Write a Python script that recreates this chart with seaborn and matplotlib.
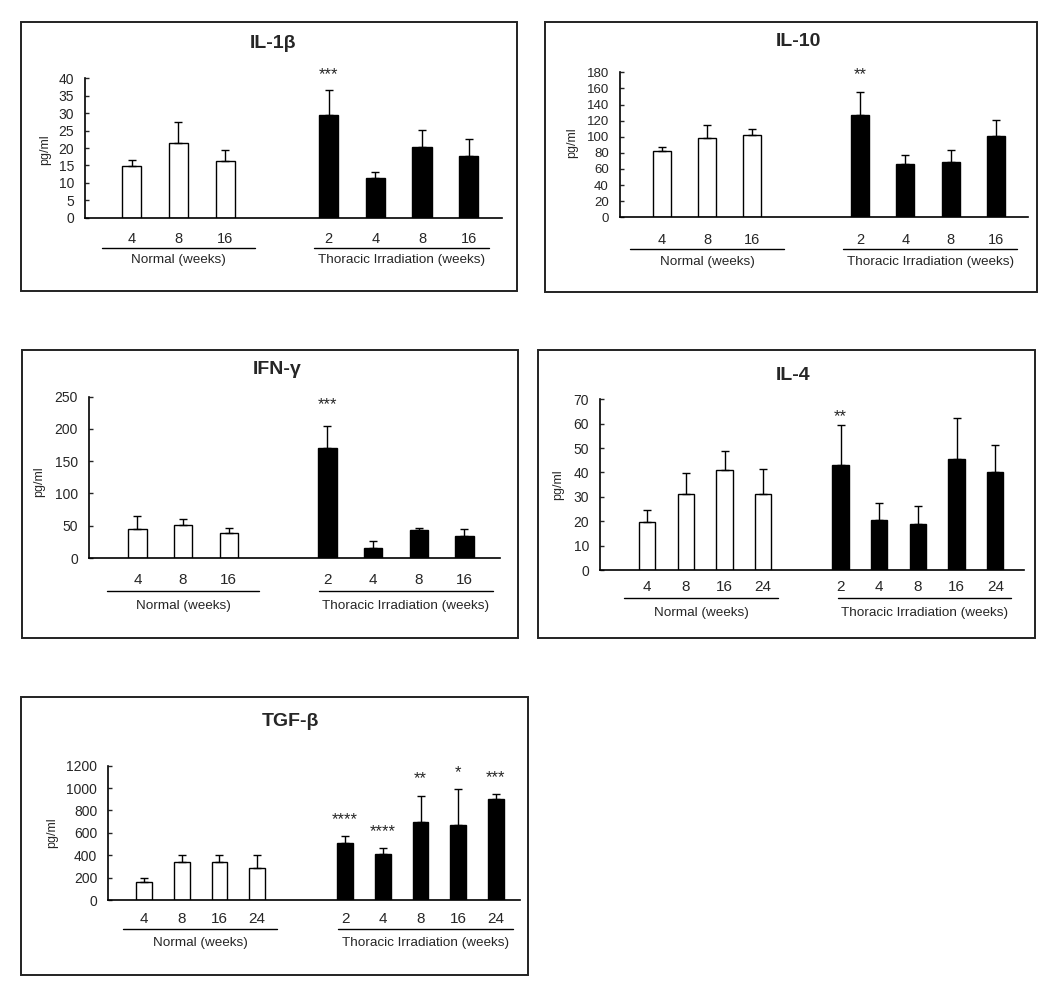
import numpy as np
import pandas as pd
import seaborn as sns
import matplotlib
import matplotlib.pyplot as plt
from matplotlib.patches import Rectangle
from matplotlib.lines import Line2D

matplotlib.use("Agg")

W, H = 1058, 991

# ---- data (pg/ml, mean and upper error) ----
normal_weeks_3 = ["4", "8", "16"]
normal_weeks_4 = ["4", "8", "16", "24"]
irr_weeks_4 = ["2", "4", "8", "16"]
irr_weeks_5 = ["2", "4", "8", "16", "24"]

il1b_normal = [14.8, 21.3, 16.4]
il1b_normal_err = [1.8, 6.3, 2.9]
il1b_irr = [29.6, 11.3, 20.3, 17.6]
il1b_irr_err = [7.0, 1.9, 4.9, 4.9]
il1b_stars = ["***", "", "", ""]

il10_normal = [82.3, 98.9, 101.8]
il10_normal_err = [4.6, 16.1, 7.4]
il10_irr = [127.4, 65.8, 68.7, 100.5]
il10_irr_err = [27.6, 12.0, 14.9, 19.9]
il10_stars = ["**", "", "", ""]

ifng_normal = [44.9, 51.6, 38.2]
ifng_normal_err = [20.1, 8.4, 8.8]
ifng_irr = [171.0, 16.0, 43.4, 34.0]
ifng_irr_err = [34.0, 10.3, 3.6, 10.4]
ifng_stars = ["***", "", "", ""]

il4_normal = [19.8, 31.0, 41.2, 31.0]
il4_normal_err = [4.7, 8.6, 7.6, 10.3]
il4_irr = [42.9, 20.4, 18.7, 45.4, 40.1]
il4_irr_err = [16.6, 7.1, 7.6, 17.1, 11.2]
il4_stars = ["**", "", "", "", ""]

tgfb_normal = [164, 336, 336, 289]
tgfb_normal_err = [36, 63, 63, 110]
tgfb_irr = [512, 414, 697, 673, 899]
tgfb_irr_err = [60, 48, 235, 319, 45]
tgfb_stars = ["****", "****", "**", "*", "***"]

# ---- layout of each panel, in pixels of the 1058x991 image ----
lay_il1b = dict(box=(21, 22, 517, 291), axes=(85, 502, 217.7, 78.3), xlim=(0.0, 8.92),
                irr_start=5.21, bar_w=0.41, ymax=40, ystep=5, title=(273, 43),
                week_y=236.7, line_y=248.3, normal_line=(101.7, 255), irr_line=(314.3, 489.3),
                group_y=260, ylabel=(45.5, 150), star_pad=11, tick_fs=10, week_fs=10.5)
lay_il10 = dict(box=(545, 22, 1037, 291.7), axes=(620, 1028.3, 217.3, 72.3), xlim=(0.08, 9.09),
                irr_start=5.375, bar_w=0.40, ymax=180, ystep=20, title=(798, 41.7),
                week_y=238.3, line_y=249.3, normal_line=(630, 784), irr_line=(843.3, 1017.3),
                group_y=261.7, ylabel=(571.7, 143), star_pad=13, tick_fs=9.5, week_fs=10.5)
lay_ifng = dict(box=(21.7, 350, 518.3, 638.3), axes=(89, 500, 558, 396.7), xlim=(-0.06, 8.94),
                irr_start=5.16, bar_w=0.40, ymax=250, ystep=50, title=(276.7, 370),
                week_y=578.3, line_y=591, normal_line=(106.7, 259.3), irr_line=(319.3, 492.7),
                group_y=606, ylabel=(39, 481.7), star_pad=15, tick_fs=10, week_fs=11)
lay_il4 = dict(box=(538.3, 350, 1035, 638.3), axes=(600, 1024.3, 570, 399.3), xlim=(-0.22, 10.75),
               irr_start=6.0, bar_w=0.42, ymax=70, ystep=10, title=(793.3, 375),
               week_y=585, line_y=598.3, normal_line=(624.3, 777.7), irr_line=(837.7, 1011),
               group_y=612.7, ylabel=(558.3, 485), star_pad=6, tick_fs=10, week_fs=11)
lay_tgfb = dict(box=(20.7, 697.3, 528, 975), axes=(108.3, 520, 900, 765.7), xlim=(0.05, 10.98),
                irr_start=6.34, bar_w=0.42, ymax=1200, ystep=200, title=(290.5, 721.7),
                week_y=916.7, line_y=929.3, normal_line=(123.3, 277.3), irr_line=(338.3, 513),
                group_y=942.7, ylabel=(51.7, 833), star_pad=12, tick_fs=10, week_fs=11)

sns.set_style("white")
plt.rcParams["font.family"] = ["Liberation Sans", "DejaVu Sans"]

fig = plt.figure(figsize=(W / 100, H / 100), dpi=100)


def fx(px):
    return px / W


def fy(py):
    return 1 - py / H


def draw_panel(title, normal_weeks, normal_mean, normal_err, irr_weeks, irr_mean, irr_err, stars, lay):
    x0, x1, yb, yt = lay["axes"]
    ax = fig.add_axes([fx(x0), fy(yb), (x1 - x0) / W, (yb - yt) / H])
    n, m = len(normal_mean), len(irr_mean)
    df = pd.DataFrame({
        "pos": [i + 1.0 for i in range(n)] + [lay["irr_start"] + i for i in range(m)],
        "value": list(normal_mean) + list(irr_mean),
        "err": list(normal_err) + list(irr_err),
        "group": ["Normal"] * n + ["Irradiated"] * m,
        "week": list(normal_weeks) + list(irr_weeks),
        "stars": [""] * n + list(stars),
    })
    sns.barplot(data=df, x="pos", y="value", hue="group",
                palette={"Normal": "white", "Irradiated": "black"},
                native_scale=True, dodge=False, width=lay["bar_w"], errorbar=None,
                legend=False, edgecolor="black", linewidth=1.0, ax=ax)
    ax.errorbar(df["pos"], df["value"], yerr=[np.zeros(len(df)), df["err"]],
                fmt="none", ecolor="black", elinewidth=1.0, capsize=3, capthick=1.0)

    for _, row in df.iterrows():
        if row["stars"]:
            ax.annotate(row["stars"], xy=(row["pos"], row["value"] + row["err"]),
                        xytext=(0, lay["star_pad"]), textcoords="offset points",
                        ha="center", va="center", fontsize=12, annotation_clip=False)

    ax.set_xlim(*lay["xlim"])
    ax.set_ylim(0, lay["ymax"])
    ax.set_yticks(np.arange(0, lay["ymax"] + lay["ystep"], lay["ystep"]))
    ax.set_xticks(df["pos"], labels=df["week"])
    bounds = [i + 1.5 for i in range(n)] + [lay["irr_start"] - 0.5 + i for i in range(m)]
    ax.set_xticks(bounds, minor=True)
    pad = (lay["week_y"] - yb - 5) * 72 / 100
    ax.tick_params(axis="x", which="major", length=0, pad=pad, labelsize=lay["week_fs"])
    ax.tick_params(axis="x", which="minor", direction="in", length=3, width=1, color="black")
    ax.tick_params(axis="y", direction="in", length=3, width=1, pad=8, labelsize=lay["tick_fs"],
                   left=True)
    ax.set_xlabel("")
    ax.set_ylabel("")
    ax.patch.set_alpha(0)
    for side in ["top", "right"]:
        ax.spines[side].set_visible(False)
    for side in ["left", "bottom"]:
        ax.spines[side].set_color("black")
        ax.spines[side].set_linewidth(1.2)

    # group underlines and labels
    for (a, b), label in [(lay["normal_line"], "Normal (weeks)"),
                          (lay["irr_line"], "Thoracic Irradiation (weeks)")]:
        fig.add_artist(Line2D([fx(a), fx(b)], [fy(lay["line_y"])] * 2, color="black", lw=1.0))
        fig.text(fx((a + b) / 2), fy(lay["group_y"]), label, ha="center", va="center", fontsize=9.7)

    fig.text(fx(lay["title"][0]), fy(lay["title"][1]), title, ha="center", va="center",
             fontsize=14, fontweight="bold")
    fig.text(fx(lay["ylabel"][0]), fy(lay["ylabel"][1]), "pg/ml", rotation=90,
             ha="center", va="center", fontsize=9)

    bx0, by0, bx1, by1 = lay["box"]
    fig.add_artist(Rectangle((fx(bx0), fy(by1)), (bx1 - bx0) / W, (by1 - by0) / H,
                             fill=False, lw=1.4, ec="#222222"))
    return ax


draw_panel("IL-1β", normal_weeks_3, il1b_normal, il1b_normal_err,
           irr_weeks_4, il1b_irr, il1b_irr_err, il1b_stars, lay_il1b)
draw_panel("IL-10", normal_weeks_3, il10_normal, il10_normal_err,
           irr_weeks_4, il10_irr, il10_irr_err, il10_stars, lay_il10)
draw_panel("IFN-γ", normal_weeks_3, ifng_normal, ifng_normal_err,
           irr_weeks_4, ifng_irr, ifng_irr_err, ifng_stars, lay_ifng)
draw_panel("IL-4", normal_weeks_4, il4_normal, il4_normal_err,
           irr_weeks_5, il4_irr, il4_irr_err, il4_stars, lay_il4)
draw_panel("TGF-β", normal_weeks_4, tgfb_normal, tgfb_normal_err,
           irr_weeks_5, tgfb_irr, tgfb_irr_err, tgfb_stars, lay_tgfb)

fig.savefig("out.png", dpi=100, facecolor="white")
